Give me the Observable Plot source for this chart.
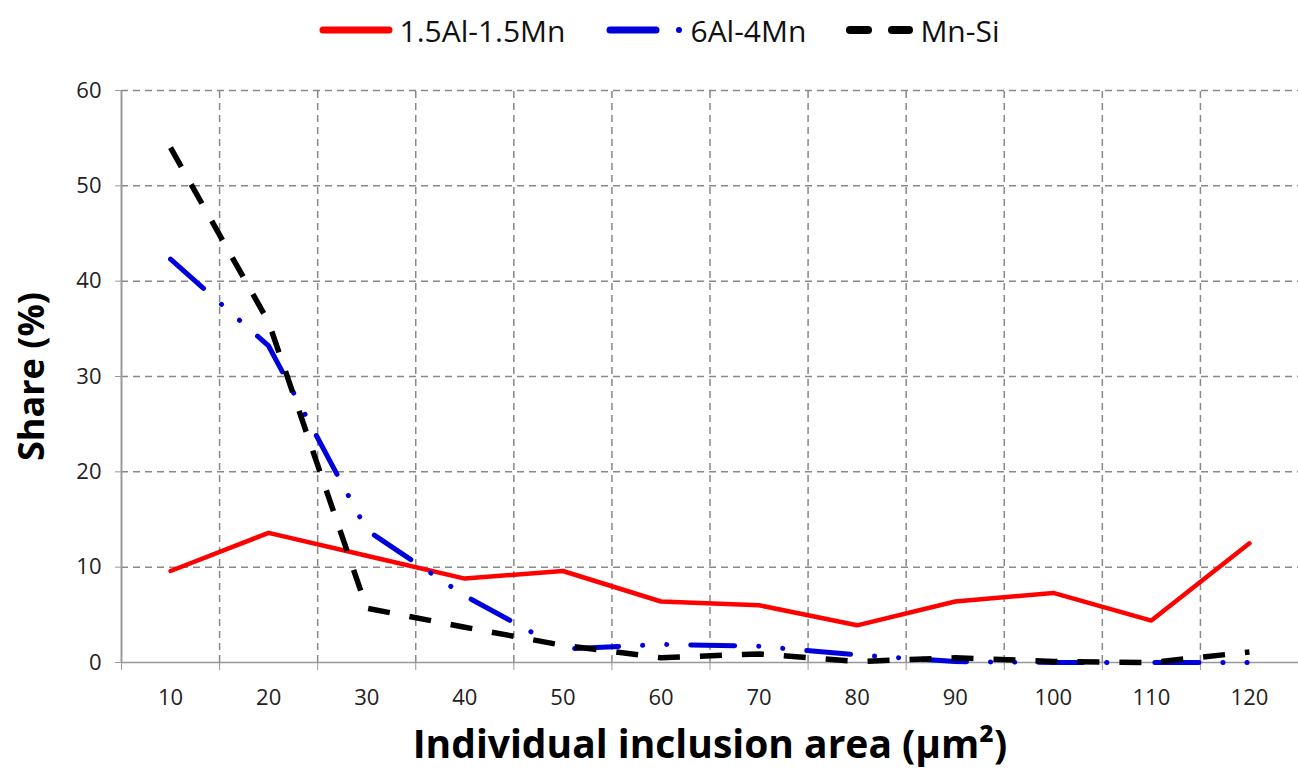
<!DOCTYPE html>
<html>
<head>
<meta charset="utf-8">
<script src="https://cdn.jsdelivr.net/npm/d3@7"></script>
<script src="https://cdn.jsdelivr.net/npm/@observablehq/plot@0.6"></script>
<style>
  body { margin: 0; background: #fff; font-family: "Open Sans", sans-serif; }
  #legend { height: 60px; display: flex; justify-content: center; align-items: center; font-size: 30px; color: #111; padding-left: 20px; box-sizing: border-box; }
  #legend .item { display: flex; align-items: center; gap: 7px; margin-right: 40px; }
  #legend .item:last-child { margin-right: 0; }
  #legend svg { display: block; }
</style>
</head>
<body>
<div id="legend"></div>
<div id="chart"></div>
<script>
const categories = ["10","20","30","40","50","60","70","80","90","100","110","120"];
const seriesNames = ["1.5Al-1.5Mn", "6Al-4Mn", "Mn-Si"];
const al15mn15 = [9.6, 13.6, 11.2, 8.8, 9.6, 6.4, 6.0, 3.9, 6.4, 7.3, 4.4, 12.5];
const al6mn4   = [42.3, 33.2, 13.9, 7.0, 1.4, 1.9, 1.7, 0.8, 0.1, 0, 0, 0];
const mnsi     = [54.0, 35.7, 5.7, 3.7, 1.8, 0.5, 0.9, 0.1, 0.5, 0.1, 0, 1.1];
const yTicks = [0, 10, 20, 30, 40, 50, 60];
const yTitle = "Share (%)";
const xTitle = "Individual inclusion area (µm²)";

const styles = [
  {color: "#ff0000", width: 4.5, dash: null, cap: "round"},
  {color: "#0000dd", width: 5, dash: "44,24,0.1,24,0.1,24", cap: "round"},
  {color: "#000000", width: 5.5, dash: "22,20", cap: "butt"}
];
const seriesValues = [al15mn15, al6mn4, mnsi];

// legend
const legend = document.getElementById("legend");
const swatches = [
  `<svg width="74" height="14"><line x1="4" y1="7" x2="70" y2="7" stroke="#ff0000" stroke-width="7" stroke-linecap="round"/></svg>`,
  `<svg width="78" height="14"><line x1="4" y1="7" x2="50" y2="7" stroke="#0000dd" stroke-width="7" stroke-linecap="round"/><circle cx="73" cy="7" r="3" fill="#0000dd"/></svg>`,
  `<svg width="67" height="14"><line x1="4" y1="7" x2="22" y2="7" stroke="#000" stroke-width="8" stroke-linecap="round"/><line x1="46" y1="7" x2="63" y2="7" stroke="#000" stroke-width="8" stroke-linecap="round"/></svg>`
];
seriesNames.forEach((n, i) => {
  const d = document.createElement("div");
  d.className = "item";
  d.innerHTML = swatches[i] + `<span>${n}</span>`;
  legend.appendChild(d);
});

const idx = categories.map((c, i) => i);
const boundaries = d3.range(0.5, 11, 1);
const tickBounds = d3.range(-0.5, 11, 1);

const lineMarks = seriesValues.map((vals, s) =>
  Plot.line(idx, {
    x: i => i, y: i => vals[i],
    stroke: styles[s].color, strokeWidth: styles[s].width,
    strokeDasharray: styles[s].dash, strokeLinecap: styles[s].cap, strokeLinejoin: "round"
  })
);

const chart = Plot.plot({
  width: 1298,
  height: 711,
  marginTop: 30,
  marginBottom: 109,
  marginLeft: 121,
  marginRight: 0,
  style: {fontFamily: "Open Sans, sans-serif", fontSize: "21px", color: "#333", background: "#fff"},
  x: {domain: [-0.5, 11.5]},
  y: {domain: [0, 60]},
  marks: [
    Plot.gridY(yTicks.slice(1), {stroke: "#888", strokeOpacity: 1, strokeWidth: 1.5, strokeDasharray: "7,5"}),
    Plot.ruleX(boundaries, {y1: 0, y2: 60, stroke: "#888", strokeWidth: 1.5, strokeDasharray: "7,5"}),
    Plot.ruleY([0], {stroke: "#999", strokeWidth: 1.5}),
    Plot.ruleX([-0.5], {y1: 0, y2: 60, stroke: "#999", strokeWidth: 2}),
    Plot.axisY(yTicks, {tickSize: 6, tickPadding: 14, stroke: "#999", label: null, fill: "#222", fontSize: 22}),
    Plot.axisX(idx, {tickSize: 0, tickPadding: 27, tickFormat: i => categories[i], label: null, fill: "#222", fontSize: 22}),
    Plot.axisX(tickBounds, {tickSize: 8, tickFormat: () => "", stroke: "#999", label: null}),
    Plot.text([yTitle], {frameAnchor: "left", dx: -89, dy: 0, rotate: -90, text: d => d, fontSize: 36, fontWeight: "bold", fill: "#000", textAnchor: "middle", lineAnchor: "middle"}),
    Plot.text([xTitle], {frameAnchor: "bottom", dy: 83, text: d => d, fontSize: 39, fontWeight: "bold", fill: "#000", textAnchor: "middle", lineAnchor: "middle"}),
    ...lineMarks
  ]
});
document.getElementById("chart").appendChild(chart);
</script>
</body>
</html>
